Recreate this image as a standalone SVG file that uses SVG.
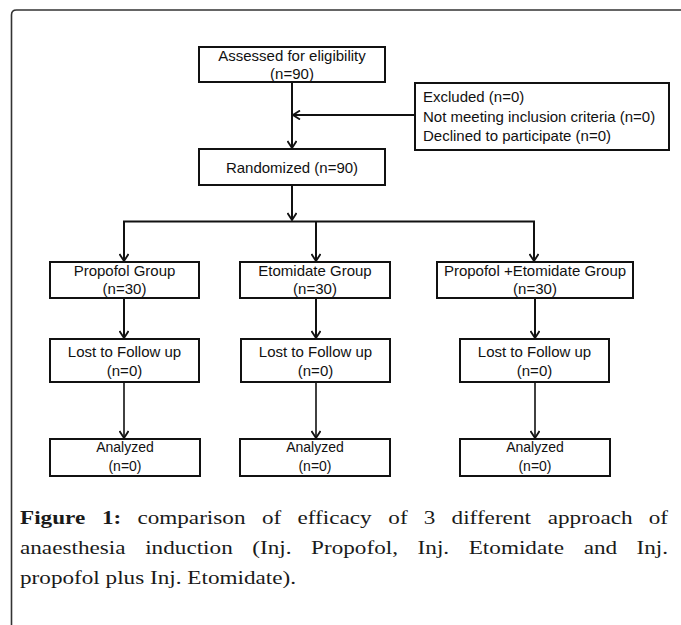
<svg xmlns="http://www.w3.org/2000/svg" width="681" height="625" viewBox="0 0 681 625">
  <style>
    .box { fill: #ffffff; stroke: #111111; stroke-width: 2; }
    .lbl { font-family: "Liberation Sans", Arial, sans-serif; font-size: 15px; fill: #111111; text-anchor: middle; }
    .lbls { font-family: "Liberation Sans", Arial, sans-serif; font-size: 14px; fill: #111111; text-anchor: middle; }
    .lbll { font-family: "Liberation Sans", Arial, sans-serif; font-size: 15px; fill: #111111; text-anchor: start; }
    .conn { fill: none; stroke: #111111; stroke-width: 2; marker-end: url(#arrow); }
    .thin { stroke-width: 1.6; }
    .line { fill: none; stroke: #111111; stroke-width: 2; }
    .cap { font-family: "Liberation Serif", "Times New Roman", serif; font-size: 19px; fill: #1a1a1a; }
    .capb { font-weight: bold; }
  </style>
  <defs>
    <marker id="arrow" viewBox="0 0 10 10" refX="9" refY="5" markerWidth="10" markerHeight="10" markerUnits="userSpaceOnUse" orient="auto">
      <path d="M2,0.5 L9,5 L2,9.5" fill="none" stroke="#111111" stroke-width="1.8"/>
    </marker>
  </defs>
  <rect x="0" y="0" width="681" height="625" fill="#ffffff"/>
  <path id="frame" d="M11.5,625 V15 Q11.5,10 16.5,10 H681" fill="none" stroke="#333333" stroke-width="1.6"/>

  <g id="connectors">
    <line class="conn" x1="292" y1="82" x2="292" y2="148"/>
    <line class="conn" x1="415" y1="115" x2="293" y2="115"/>
    <line class="conn" x1="292" y1="185" x2="292" y2="220"/>
    <line class="line" x1="123" y1="221.5" x2="535" y2="221.5"/>
    <line class="conn" x1="124" y1="221.5" x2="124" y2="261"/>
    <line class="conn" x1="316" y1="221.5" x2="316" y2="261"/>
    <line class="conn" x1="534" y1="221.5" x2="534" y2="261"/>
    <line class="conn" x1="124" y1="298" x2="124" y2="338"/>
    <line class="conn" x1="316" y1="298" x2="316" y2="338"/>
    <line class="conn" x1="535" y1="298" x2="535" y2="338"/>
    <line class="conn thin" x1="124" y1="382" x2="124" y2="438"/>
    <line class="conn thin" x1="316" y1="382" x2="316" y2="438"/>
    <line class="conn thin" x1="535" y1="382" x2="535" y2="438"/>
  </g>

  <g id="assessed">
    <rect class="box" x="199" y="47" width="186" height="35"/>
    <text class="lbl" x="292" y="61">Assessed for eligibility</text>
    <text class="lbl" x="292" y="79">(n=90)</text>
  </g>

  <g id="excluded">
    <rect class="box" x="415" y="83" width="254" height="67"/>
    <text class="lbll" x="423" y="101.5">Excluded (n=0)</text>
    <text class="lbll" x="423" y="122">Not meeting inclusion criteria (n=0)</text>
    <text class="lbll" x="423" y="141">Declined to participate (n=0)</text>
  </g>

  <g id="randomized">
    <rect class="box" x="199" y="149" width="186" height="36"/>
    <text class="lbl" x="292" y="173">Randomized (n=90)</text>
  </g>

  <g id="propofol-group">
    <rect class="box" x="50" y="262" width="149" height="36"/>
    <text class="lbl" x="124.5" y="276">Propofol Group</text>
    <text class="lbl" x="124.5" y="294">(n=30)</text>
  </g>
  <g id="etomidate-group">
    <rect class="box" x="240" y="262" width="150" height="36"/>
    <text class="lbl" x="315" y="276">Etomidate Group</text>
    <text class="lbl" x="315" y="294">(n=30)</text>
  </g>
  <g id="combo-group">
    <rect class="box" x="437" y="262" width="196" height="36"/>
    <text class="lbl" x="535" y="276">Propofol +Etomidate Group</text>
    <text class="lbl" x="535" y="294">(n=30)</text>
  </g>

  <g id="lost-1">
    <rect class="box" x="50" y="339" width="149" height="43"/>
    <text class="lbl" x="124.5" y="357">Lost to Follow up</text>
    <text class="lbl" x="124.5" y="376">(n=0)</text>
  </g>
  <g id="lost-2">
    <rect class="box" x="241" y="339" width="149" height="43"/>
    <text class="lbl" x="315.5" y="357">Lost to Follow up</text>
    <text class="lbl" x="315.5" y="376">(n=0)</text>
  </g>
  <g id="lost-3">
    <rect class="box" x="460" y="339" width="149" height="43"/>
    <text class="lbl" x="534.5" y="357">Lost to Follow up</text>
    <text class="lbl" x="534.5" y="376">(n=0)</text>
  </g>

  <g id="analyzed-1">
    <rect class="box" x="50" y="439" width="150" height="37"/>
    <text class="lbls" x="125" y="452">Analyzed</text>
    <text class="lbls" x="125" y="471">(n=0)</text>
  </g>
  <g id="analyzed-2">
    <rect class="box" x="240" y="439" width="150" height="37"/>
    <text class="lbls" x="315" y="452">Analyzed</text>
    <text class="lbls" x="315" y="471">(n=0)</text>
  </g>
  <g id="analyzed-3">
    <rect class="box" x="460" y="439" width="150" height="37"/>
    <text class="lbls" x="535" y="452">Analyzed</text>
    <text class="lbls" x="535" y="471">(n=0)</text>
  </g>

  <g id="caption" transform="matrix(1.22 0 0 1 0 0)">
    <text class="cap" y="524"><tspan class="capb" x="16.39">Figure</tspan><tspan class="capb" x="83.52">1:</tspan><tspan x="112.62">comparison</tspan><tspan x="214.67">of</tspan><tspan x="243.77">efficacy</tspan><tspan x="318.28">of</tspan><tspan x="347.38">3</tspan><tspan x="370.16">different</tspan><tspan x="448.93">approach</tspan></text>
    <text class="cap" x="547.54" y="524" text-anchor="end">of</text>
    <text class="cap" y="554"><tspan x="16.39">anaesthesia</tspan><tspan x="119.0">induction</tspan><tspan x="206.8">(Inj.</tspan><tspan x="255.0">Propofol,</tspan><tspan x="342.3">Inj.</tspan><tspan x="384.2">Etomidate</tspan><tspan x="478.4">and</tspan></text>
    <text class="cap" x="547.54" y="554" text-anchor="end">Inj.</text>
    <text class="cap" x="16.39" y="584">propofol plus Inj. Etomidate).</text>
  </g>
</svg>
